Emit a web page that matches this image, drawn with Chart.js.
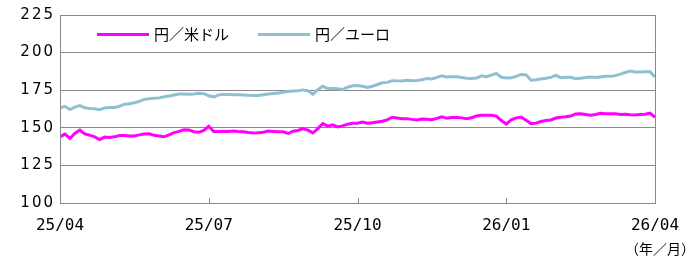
<!DOCTYPE html>
<html>
<head>
<meta charset="utf-8">
<script src="https://cdn.jsdelivr.net/npm/chart.js@4/dist/chart.umd.min.js"></script>
<style>
body{margin:0;background:#fff;}
</style>
</head>
<body>
<canvas id="fxChart" width="698" height="259"></canvas>
<script>
// quarter ticks along the x axis (index of the sample) and their labels
const tickPos = [0, 30, 60, 90, 120];
const tickLabels = ["25/04", "25/07", "25/10", "26/01", "26/04"];
const yTicks = [100, 125, 150, 175, 200, 225];

const seriesNames = ["円／米ドル", "円／ユーロ"];
const unitLabel = "（年／月）";

// values, about every 3 days from 25/04 to 26/04
const usdJpy = [
144.0,145.8,142.9,146.2,148.5,145.9,145.1,144.0,142.2,143.8,
143.5,144.0,144.9,144.8,144.5,144.6,145.3,145.9,146.0,145.0,
144.5,144.0,145.3,146.8,147.6,148.7,148.6,147.4,147.0,148.3,
151.0,147.5,147.6,147.7,147.6,147.8,147.5,147.3,146.9,146.6,
146.7,147.1,147.8,147.6,147.3,147.3,146.2,147.7,148.2,149.5,
148.4,146.6,149.5,152.8,151.1,152.0,150.6,151.3,152.4,153.0,
153.1,153.9,153.1,153.3,153.9,154.4,155.3,157.0,156.5,156.1,
156.1,155.6,155.2,155.8,155.7,155.4,156.3,157.3,156.3,156.8,
156.8,156.6,156.1,156.7,157.8,158.4,158.4,158.4,157.8,154.8,
152.5,155.3,156.6,157.2,155.0,152.8,153.1,154.2,154.8,155.2,
156.5,157.0,157.3,157.8,159.2,159.3,158.9,158.4,158.9,159.6,
159.4,159.3,159.3,158.8,159.0,158.7,158.5,158.8,159.0,159.8,
157.0
];
const eurJpy = [
163.2,164.3,162.1,163.7,164.8,163.3,162.8,162.7,162.1,163.2,
163.5,163.5,164.3,165.7,166.0,166.7,167.6,168.9,169.3,169.6,
169.9,170.6,171.1,171.8,172.4,172.5,172.3,172.5,172.9,172.7,
171.3,170.6,171.9,172.2,172.2,172.0,171.9,171.8,171.6,171.5,
171.5,172.0,172.5,172.8,173.1,173.6,174.1,174.4,174.6,175.2,
174.7,172.3,175.4,177.6,176.1,176.1,176.0,175.4,177.0,177.9,
178.1,177.6,176.8,177.6,178.8,179.9,180.2,181.3,181.2,181.1,
181.6,181.3,181.5,182.0,182.7,182.5,183.5,184.6,183.8,184.0,
183.9,183.5,182.9,182.8,183.1,184.6,184.0,185.0,186.2,183.6,
183.1,183.2,184.2,185.5,185.2,181.6,181.9,182.5,182.9,183.5,
184.8,183.3,183.6,183.6,182.6,183.0,183.4,183.8,183.4,183.8,
184.2,184.2,184.7,185.7,186.8,187.7,187.1,187.1,187.2,187.2,
183.8
];

const toPoints = arr => arr.map((v, i) => ({ x: i, y: v }));

const frameAndLegend = {
  id: "frameAndLegend",
  beforeDraw(chart) {
    // wider y tick labels, like the original
    const ys = chart.scales.y;
    if (!ys._wideLabels) {
      const orig = ys.drawLabels.bind(ys);
      ys.drawLabels = function (area) {
        const c = this.ctx;
        c.save();
        c.letterSpacing = "2px";
        orig(area);
        c.restore();
      };
      ys._wideLabels = true;
    }
  },
  afterDraw(chart) {
    const ctx = chart.ctx;
    const a = chart.chartArea;
    const xs = chart.scales.x;
    ctx.save();
    // plot frame
    ctx.strokeStyle = "#888";
    ctx.lineWidth = 1;
    ctx.strokeRect(a.left + 0.5, a.top + 0.5, a.right - a.left, a.bottom - a.top);
    // small inner ticks on the x axis
    ctx.beginPath();
    tickPos.forEach(p => {
      const px = Math.round(xs.getPixelForValue(p)) + 0.5;
      ctx.moveTo(px, a.bottom);
      ctx.lineTo(px, a.bottom - 5);
    });
    ctx.stroke();

    // legend inside the plot
    const lx = [a.left + 37, a.left + 198];
    const ly = a.top + 19.5;
    ctx.font = "15px 'Noto Sans CJK JP'";
    ctx.textBaseline = "middle";
    chart.data.datasets.forEach((ds, i) => {
      ctx.strokeStyle = ds.borderColor;
      ctx.lineWidth = 3;
      ctx.beginPath();
      ctx.moveTo(lx[i], ly);
      ctx.lineTo(lx[i] + 52, ly);
      ctx.stroke();
      ctx.fillStyle = "#000";
      ctx.fillText(ds.label, lx[i] + 57, ly);
    });

    // unit label under the last tick
    ctx.font = "14px 'Noto Sans CJK JP'";
    ctx.textAlign = "right";
    ctx.fillText(unitLabel, a.right + 40, a.bottom + 46);
    ctx.restore();
  }
};

new Chart(document.getElementById("fxChart"), {
  type: "line",
  data: {
    datasets: [
      {
        label: seriesNames[0],
        data: toPoints(usdJpy),
        borderColor: "#ff00ff",
        borderWidth: 3,
        pointRadius: 0,
        tension: 0
      },
      {
        label: seriesNames[1],
        data: toPoints(eurJpy),
        borderColor: "#8ec0d2",
        borderWidth: 3,
        pointRadius: 0,
        tension: 0
      }
    ]
  },
  options: {
    responsive: false,
    devicePixelRatio: 1,
    animation: false,
    layout: { padding: { top: 15, right: 43, left: 0, bottom: 0 } },
    plugins: {
      legend: { display: false },
      tooltip: { enabled: false }
    },
    scales: {
      x: {
        type: "linear",
        min: tickPos[0],
        max: tickPos[tickPos.length - 1],
        afterBuildTicks: s => { s.ticks = tickPos.map(v => ({ value: v })); },
        afterFit: s => { s.height = 56; },
        grid: { display: false, drawTicks: false },
        border: { display: false },
        ticks: {
          padding: 13,
          maxRotation: 0,
          autoSkip: false,
          color: "#000",
          font: { family: "'DejaVu Sans Mono'", size: 16 },
          callback: v => tickLabels[tickPos.indexOf(v)]
        }
      },
      y: {
        min: yTicks[0],
        max: yTicks[yTicks.length - 1],
        afterBuildTicks: s => { s.ticks = yTicks.map(v => ({ value: v })); },
        afterFit: s => { s.width = 60; },
        grid: { color: "#888", lineWidth: 1, drawTicks: false },
        border: { display: false },
        ticks: {
          padding: 5,
          color: "#000",
          font: { family: "'DejaVu Sans'", size: 15 }
        }
      }
    }
  },
  plugins: [frameAndLegend]
});
</script>
</body>
</html>
